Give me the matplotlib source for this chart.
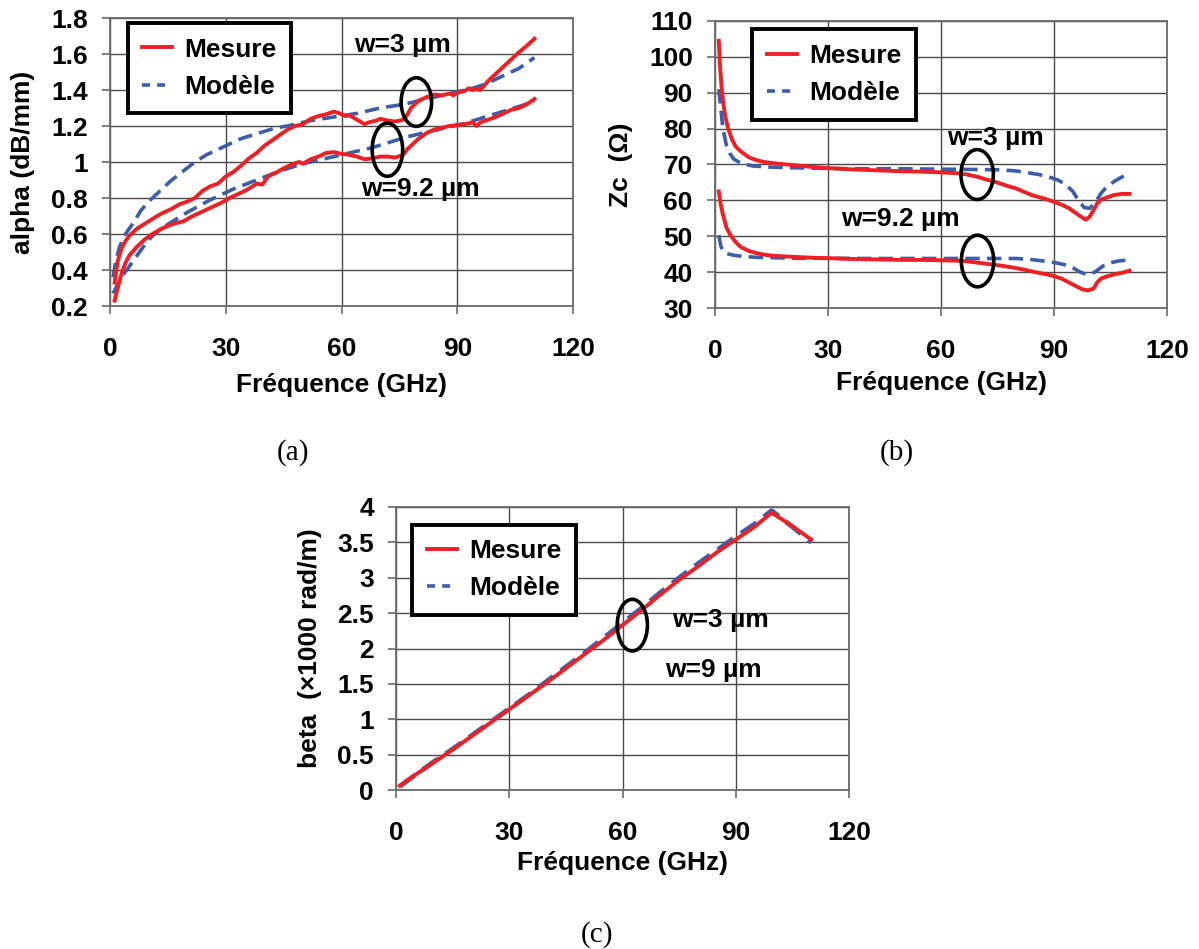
import matplotlib
matplotlib.use("Agg")
import matplotlib.pyplot as plt
from matplotlib.patches import Ellipse
from matplotlib.lines import Line2D
from matplotlib.ticker import FuncFormatter

plt.rcParams['font.family'] = ['Liberation Sans', 'DejaVu Sans']
plt.rcParams['font.weight'] = 'bold'

RED = '#EE2026'
BLUE = '#3B5DAB'
GRID = '#4a4a4a'

# ---------------- (a) alpha ----------------
fa_m3 = [1.2, 2, 3, 4, 5, 7, 10, 13, 16, 18, 20, 22, 24, 26, 28, 30, 32, 34, 36, 38, 40, 42, 44, 46, 48, 50,
         52, 54, 56, 58, 59.5, 61, 62, 64, 66, 67, 69, 70, 72, 74, 76, 77, 78, 80, 82, 84, 86, 88, 89, 90, 92,
         93, 94, 95, 96, 98, 100, 102, 104, 106, 108, 110]
alpha_m3 = [0.33, 0.45, 0.52, 0.56, 0.59, 0.63, 0.67, 0.71, 0.74, 0.765, 0.78, 0.80, 0.84, 0.865, 0.88, 0.92,
            0.945, 0.98, 1.02, 1.05, 1.09, 1.12, 1.15, 1.18, 1.20, 1.21, 1.24, 1.255, 1.265, 1.28, 1.27, 1.255,
            1.26, 1.235, 1.21, 1.22, 1.23, 1.24, 1.23, 1.225, 1.235, 1.26, 1.30, 1.34, 1.36, 1.375, 1.37, 1.38,
            1.37, 1.385, 1.395, 1.41, 1.40, 1.405, 1.40, 1.45, 1.49, 1.53, 1.57, 1.61, 1.645, 1.685]
fa_s3 = [0.8, 1.5, 2.5, 4, 6, 8, 10, 13, 16, 19, 22, 25, 28, 31, 34, 37, 40, 43, 46, 49, 52, 55, 58, 61, 64,
         67, 70, 73, 76, 79, 82, 85, 88, 91, 94, 97, 100, 103, 106, 108, 110]
alpha_s3 = [0.36, 0.45, 0.53, 0.60, 0.66, 0.73, 0.78, 0.84, 0.90, 0.95, 1.00, 1.04, 1.07, 1.10, 1.13, 1.15,
            1.17, 1.19, 1.20, 1.215, 1.23, 1.24, 1.25, 1.26, 1.27, 1.285, 1.30, 1.31, 1.32, 1.335, 1.35, 1.365,
            1.38, 1.395, 1.41, 1.43, 1.46, 1.49, 1.52, 1.55, 1.58]
fa_m9 = [1.2, 2, 3, 4, 5, 7, 9, 11, 13, 15, 17, 19, 21, 23, 25, 27, 29, 31, 33, 35, 37, 38, 39.5, 41, 43, 45,
         47, 49, 50, 52, 54, 56, 58, 60, 62, 64, 66, 68, 70, 72, 74, 76, 77, 78, 80, 82, 84, 86, 88, 90, 92,
         94, 95, 96, 98, 100, 102, 104, 106, 108, 110]
alpha_m9 = [0.23, 0.30, 0.38, 0.44, 0.48, 0.53, 0.57, 0.60, 0.625, 0.645, 0.66, 0.67, 0.695, 0.715, 0.735,
            0.755, 0.775, 0.80, 0.82, 0.84, 0.865, 0.88, 0.875, 0.92, 0.94, 0.965, 0.985, 1.00, 0.99, 1.015,
            1.03, 1.05, 1.055, 1.045, 1.04, 1.03, 1.015, 1.02, 1.03, 1.03, 1.025, 1.04, 1.07, 1.09, 1.13, 1.16,
            1.18, 1.19, 1.20, 1.205, 1.21, 1.22, 1.20, 1.22, 1.235, 1.25, 1.27, 1.29, 1.30, 1.32, 1.35]
fa_s9 = [0.8, 2, 3, 5, 7, 9, 11, 14, 17, 20, 23, 26, 29, 32, 35, 38, 41, 44, 47, 50, 53, 56, 59, 62, 65, 68,
         71, 74, 77, 80, 83, 86, 89, 92, 95, 98, 101, 104, 107, 110]
alpha_s9 = [0.27, 0.32, 0.36, 0.42, 0.48, 0.54, 0.59, 0.64, 0.68, 0.72, 0.755, 0.79, 0.82, 0.85, 0.875, 0.90,
            0.925, 0.95, 0.97, 0.99, 1.005, 1.02, 1.035, 1.05, 1.065, 1.08, 1.10, 1.12, 1.14, 1.155, 1.17,
            1.185, 1.20, 1.215, 1.235, 1.255, 1.275, 1.295, 1.315, 1.34]

# ---------------- (b) Zc ----------------
fb_m3 = [1, 1.3, 1.7, 2.2, 2.8, 3.5, 4.5, 5.5, 7, 9, 11, 13, 16, 20, 25, 30, 35, 40, 45, 50, 55, 60, 64, 67,
         70, 72, 74, 76, 78, 80, 82, 84, 86, 88, 90, 92, 94, 96, 97.5, 98.5, 99.5, 100.5, 101.5, 102.5, 104,
         106, 108, 110]
zc_m3 = [104.5, 98, 92, 87, 83, 80, 77, 75, 73.5, 72, 71.2, 70.7, 70.3, 69.9, 69.4, 69.0, 68.7, 68.5, 68.3,
         68.1, 68.0, 67.8, 67.6, 67.2, 66.5, 65.8, 65.3, 64.6, 63.9, 63.3, 62.4, 61.5, 60.9, 60.3, 59.6, 58.8,
         57.8, 56.3, 55.2, 54.6, 55.5, 57.3, 59.2, 60.2, 60.8, 61.5, 61.8, 61.8]
fb_s3 = [1, 1.5, 2, 2.5, 3, 4, 5, 7, 10, 14, 20, 30, 40, 50, 60, 70, 76, 80, 83, 86, 89, 91, 93, 95, 96.5,
         98, 99.5, 101, 102.5, 104, 106, 108, 110]
zc_s3 = [91, 86, 81, 78, 75.5, 73, 71.5, 70.3, 69.6, 69.3, 69.1, 68.9, 68.8, 68.8, 68.7, 68.6, 68.5, 68.2,
         67.7, 67.2, 66.4, 65.7, 64.5, 62.5, 60.0, 58.0, 57.8, 59.5, 62.0, 63.8, 65.3, 66.5, 67.4]
fb_m9 = [1, 1.5, 2, 3, 4, 5, 6, 7, 9, 11, 14, 18, 22, 26, 30, 35, 40, 45, 50, 55, 60, 64, 67, 70, 73, 76, 79,
         82, 85, 88, 90, 92, 94, 96, 97.5, 99, 100.5, 101.5, 102.5, 104, 106, 108, 110]
zc_m9 = [62.5, 59, 56.5, 52.5, 50.5, 49, 47.8, 46.9, 45.9, 45.3, 44.7, 44.4, 44.2, 44.0, 43.9, 43.7, 43.6,
         43.5, 43.4, 43.4, 43.3, 43.2, 43.0, 42.6, 42.2, 41.8, 41.3, 40.7, 40.0, 39.4, 38.9, 38.2, 37.1, 36.0,
         35.2, 34.9, 35.4, 37.2, 38.2, 38.8, 39.4, 39.8, 40.4]
fb_s9 = [1, 1.5, 2, 3, 5, 8, 12, 20, 40, 60, 70, 80, 84, 88, 91, 93, 95, 97, 98.5, 100, 101.5, 103, 105, 107,
         110]
zc_s9 = [50.3, 47.5, 46, 45.2, 44.7, 44.3, 44.1, 43.9, 43.8, 43.8, 43.8, 43.8, 43.5, 43.0, 42.5, 42.0, 41.2,
         40.0, 39.4, 39.5, 40.5, 41.7, 42.6, 43.1, 43.4]

# ---------------- (c) beta ----------------
fc = [1, 5, 10, 15, 20, 25, 30, 35, 40, 45, 50, 55, 60, 65, 70, 75, 80, 85, 90, 95, 99.5, 105, 110]
beta_m = [0.06, 0.21, 0.39, 0.57, 0.76, 0.95, 1.14, 1.33, 1.52, 1.72, 1.92, 2.12, 2.33, 2.54, 2.76, 2.97,
          3.16, 3.36, 3.54, 3.72, 3.92, 3.73, 3.54]
beta_s = [0.05, 0.21, 0.40, 0.58, 0.77, 0.96, 1.15, 1.34, 1.54, 1.74, 1.94, 2.15, 2.36, 2.57, 2.79, 3.00,
          3.20, 3.39, 3.58, 3.76, 3.95, 3.72, 3.50]

xticks = [0, 30, 60, 90, 120]
legend_labels = ['Mesure', 'Modèle']

W, H = 1199, 949
fig = plt.figure(figsize=(W / 100, H / 100), dpi=100)

FS = 19
RLW = 2.8
BLW = 2.6


def make_ax(l, r, t, b):
    return fig.add_axes([l / W, 1 - b / H, (r - l) / W, (b - t) / H])


def style(ax, yticks, ylabel, ylab_x, xlab_y):
    ax.set_xlim(0, 120)
    ax.set_ylim(yticks[0], yticks[-1])
    ax.set_xticks(xticks)
    ax.set_yticks(yticks)
    ax.yaxis.set_major_formatter(FuncFormatter(lambda v, p: ('%g' % round(v, 3))))
    ax.grid(True, color=GRID, lw=1.0)
    ax.set_axisbelow(True)
    for s in ax.spines.values():
        s.set_color('#6a6a6a')
        s.set_linewidth(1.3)
    ax.tick_params(direction='out', length=6, width=1.2, color='#6a6a6a', labelsize=FS, top=False,
                   right=False)
    ax.tick_params(axis='x', pad=16)
    ax.tick_params(axis='y', pad=10)
    ax.set_xlabel('Fréquence (GHz)', fontsize=FS, fontweight='bold', va='center')
    ax.xaxis.set_label_coords(0.5, xlab_y)
    ax.set_ylabel(ylabel, fontsize=FS, fontweight='bold', va='center', ha='center')
    ax.yaxis.set_label_coords(ylab_x, 0.5)


def add_legend(ax, x0, y1):
    handles = [Line2D([], [], color=RED, lw=RLW),
               Line2D([], [], color=BLUE, lw=BLW, dashes=(2.2, 2.0))]
    leg = ax.legend(handles, legend_labels, loc='upper left', bbox_to_anchor=(x0, y1), borderaxespad=0,
                    frameon=True, fancybox=False, edgecolor='black', framealpha=1,
                    prop={'weight': 'bold', 'size': 19}, handlelength=1.15, handletextpad=0.45,
                    borderpad=0.55, labelspacing=0.5)
    leg.get_frame().set_linewidth(2.8)


def ell(ax, x, y, w, h):
    ax.add_patch(Ellipse((x, y), w, h, fill=False, edgecolor='black', lw=2.6, zorder=6))


# (a)
ax_a = make_ax(110, 573, 18, 306)
ax_a.plot(fa_s3, alpha_s3, color=BLUE, lw=BLW, dashes=(4, 2))
ax_a.plot(fa_s9, alpha_s9, color=BLUE, lw=BLW, dashes=(4, 2))
ax_a.plot(fa_m3, alpha_m3, color=RED, lw=RLW)
ax_a.plot(fa_m9, alpha_m9, color=RED, lw=RLW)
style(ax_a, [0.2, 0.4, 0.6, 0.8, 1.0, 1.2, 1.4, 1.6, 1.8], 'alpha (dB/mm)', -0.188, -0.274)
add_legend(ax_a, 0.038, 0.9825)
ell(ax_a, 79.4, 1.333, 7.9, 0.27)
ell(ax_a, 71.9, 1.068, 7.9, 0.295)
ax_a.text(63.3, 1.652, 'w=3 µm', fontsize=FS, fontweight='bold', va='center', ha='left')
ax_a.text(65.2, 0.85, 'w=9.2 µm', fontsize=FS, fontweight='bold', va='center', ha='left')

# (b)
ax_b = make_ax(715, 1167, 21, 308)
ax_b.plot(fb_s3, zc_s3, color=BLUE, lw=BLW, dashes=(4, 2))
ax_b.plot(fb_s9, zc_s9, color=BLUE, lw=BLW, dashes=(4, 2))
ax_b.plot(fb_m3, zc_m3, color=RED, lw=RLW)
ax_b.plot(fb_m9, zc_m9, color=RED, lw=RLW)
style(ax_b, [30, 40, 50, 60, 70, 80, 90, 100, 110], 'Zc  (Ω)', -0.208, -0.261)
add_legend(ax_b, 0.082, 0.971)
ell(ax_b, 69.6, 67.2, 8.6, 13.9)
ell(ax_b, 69.7, 43.1, 8.6, 14.4)
ax_b.text(61.7, 77.4, 'w=3 µm', fontsize=FS, fontweight='bold', va='center', ha='left')
ax_b.text(33.5, 54.9, 'w=9.2 µm', fontsize=FS, fontweight='bold', va='center', ha='left')

# (c)
ax_c = make_ax(396, 849, 507, 790)
ax_c.plot(fc, beta_s, color=BLUE, lw=3.4, dashes=(4, 2))
ax_c.plot(fc, beta_m, color=RED, lw=RLW)
style(ax_c, [0, 0.5, 1, 1.5, 2, 2.5, 3, 3.5, 4], 'beta  (×1000 rad/m)', -0.19, -0.258)
add_legend(ax_c, 0.036, 0.9376)
ell(ax_c, 62.6, 2.33, 8.0, 0.73)
ax_c.text(73.2, 2.40, 'w=3 µm', fontsize=FS, fontweight='bold', va='center', ha='left')
ax_c.text(71.2, 1.69, 'w=9 µm', fontsize=FS, fontweight='bold', va='center', ha='left')

serif = ['Liberation Serif', 'DejaVu Serif']
fig.text(293 / W, 1 - 453 / H, '(a)', family=serif, fontweight='normal', fontsize=21, ha='center', va='center')
fig.text(897 / W, 1 - 453 / H, '(b)', family=serif, fontweight='normal', fontsize=21, ha='center', va='center')
fig.text(597 / W, 1 - 935 / H, '(c)', family=serif, fontweight='normal', fontsize=21, ha='center', va='center')

fig.savefig('out.png', dpi=100, facecolor='white')
